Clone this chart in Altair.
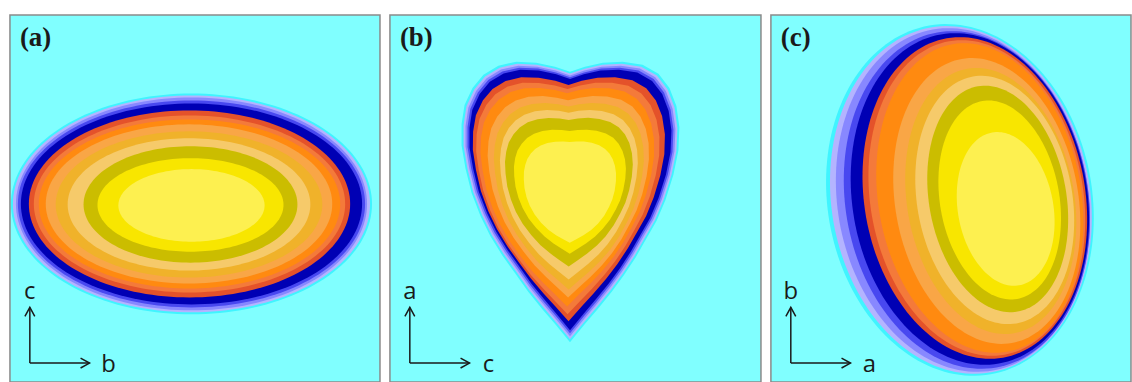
import altair as alt
import numpy as np

# ---------------- data ----------------
# contour level colours, outermost first
LEVEL_COLORS = ["#40f4ff", "#b4b4ff", "#8888ff", "#4848f0", "#0000b4",
                "#e4522a", "#f47a3a", "#ff8a10", "#f9a646", "#f0b22a",
                "#f6ca6a", "#cbbd00", "#f8e600", "#fdf050"]

# panel (a): level extents in page pixels (ellipses)
A_LEFT = [10, 12, 15, 17, 20, 28, 33, 38, 45, 55, 67, 83, 97, 118]
A_RIGHT = [373, 371, 368, 366, 363, 351, 346, 341, 333, 323, 311, 298, 284, 265]
A_TOP = [92, 94, 96, 99, 102, 109, 114, 118, 123, 130, 137, 145, 157, 168]
A_BOTTOM = [314, 312, 310, 307, 304, 297, 292, 288, 283, 277, 270, 262, 251, 241]

# panel (b): outer heart outline (page pixels) and level extents
B_OUT_X = [570, 585, 603, 623, 643, 659, 670, 677, 680, 679, 674, 666, 657, 647, 636, 624, 612, 598, 585,
           570, 555, 542, 528, 515, 502, 490, 480, 471, 465, 461, 461, 464, 472, 483, 498, 516, 536, 555]
B_OUT_Y = [70, 65, 61, 60, 63, 72, 86, 104, 125, 148, 172, 197, 218, 235, 254, 272, 288, 305, 320,
           338, 320, 305, 288, 270, 252, 233, 213, 190, 166, 143, 122, 103, 86, 73, 64, 60, 61, 65]
B_LEFT = [461, 463, 465, 467, 469, 472, 475, 479, 486, 492, 498, 503, 512, 522]
B_RIGHT = [680, 678, 676, 674, 672, 666, 661, 656, 651, 646, 640, 635, 628, 618]
B_TOP = [60, 62, 64, 66, 68, 75, 80, 85, 93, 100, 107, 115, 127, 139]
B_BOTTOM = [342, 339, 336, 333, 330, 321, 314, 306, 297, 289, 279, 266, 253, 242]
# how round (0 = heart, 1 = ellipse) each level looks
B_ROUND = [0, 0, 0, 0, 0, 0.05, 0.1, 0.15, 0.2, 0.25, 0.3, 0.35, 0.4, 0.5]

# panel (c): tilted ellipses (page pixels)
C_CX = [960, 961, 963, 967, 970, 975, 977, 980, 987, 991, 995, 998, 1000, 1006]
C_CY = [199, 199, 199, 199, 198, 197, 197, 197, 200, 200, 199, 198, 199, 208]
C_RX = [133, 130, 126, 122, 118, 111, 107, 102, 92, 84, 78, 69, 60, 48]
C_RY = [178, 176, 174, 171, 168, 163, 160, 157, 145, 135, 126, 115, 101, 78]
C_TILT_DEG = -10

PANEL_LABELS = ["(a)", "(b)", "(c)"]
AXIS_UP = ["c", "a", "b"]
AXIS_RIGHT = ["b", "c", "a"]
PANEL_X0 = [9, 389, 770]
PANEL_Y0 = 13
PANEL_W = [372, 373, 362]
PANEL_H = 369

BG = "#80ffff"
N_T = 160
T = np.linspace(0, 2 * np.pi, N_T, endpoint=False)


def feature(xs, ys, color):
    ring = [[float(x), float(y)] for x, y in zip(xs, ys)]
    ring.append(ring[0])
    return {"type": "Feature", "geometry": {"type": "Polygon", "coordinates": [ring]},
            "properties": {"color": color}}


def feats_a(x0, y0):
    out = []
    for l, r, t, b, c in zip(A_LEFT, A_RIGHT, A_TOP, A_BOTTOM, LEVEL_COLORS):
        cx, cy, rx, ry = (l + r) / 2 - x0, (t + b) / 2 - y0, (r - l) / 2, (b - t) / 2
        out.append(feature(cx + rx * np.cos(T), cy + ry * np.sin(T), c))
    return out


def feats_b(x0, y0):
    ox = np.array(B_OUT_X, float)
    oy = np.array(B_OUT_Y, float)
    nx = (ox - ox.min()) / (ox.max() - ox.min())
    ny = (oy - oy.min()) / (oy.max() - oy.min())
    ang = np.arctan2(ny - 0.5, nx - 0.5)
    ex, ey = 0.5 + 0.5 * np.cos(ang), 0.5 + 0.5 * np.sin(ang)
    out = []
    for l, r, t, b, w, c in zip(B_LEFT, B_RIGHT, B_TOP, B_BOTTOM, B_ROUND, LEVEL_COLORS):
        mx = (1 - w) * nx + w * ex
        my = (1 - w) * ny + w * ey
        out.append(feature(l + mx * (r - l) - x0, t + my * (b - t) - y0, c))
    return out


def feats_c(x0, y0):
    phi = np.deg2rad(C_TILT_DEG)
    out = []
    for cx, cy, rx, ry, c in zip(C_CX, C_CY, C_RX, C_RY, LEVEL_COLORS):
        u, v = rx * np.cos(T), ry * np.sin(T)
        xs = cx + u * np.cos(phi) - v * np.sin(phi) - x0
        ys = cy + u * np.sin(phi) + v * np.cos(phi) - y0
        out.append(feature(xs, ys, c))
    return out


def panel(feats, w, label, up, right):
    data = alt.InlineData(values={"type": "FeatureCollection", "features": feats},
                          format=alt.DataFormat(property="features", type="json"))
    shapes = alt.Chart(data).mark_geoshape(strokeWidth=0).encode(
        fill=alt.Fill("properties.color:N", scale=None)
    ).project(type="identity", scale=1, translate=[0, 0])

    lab = alt.Chart(alt.Data(values=[{"t": label}])).mark_text(
        font="Liberation Serif", fontWeight="bold", fontSize=27, align="left",
        baseline="alphabetic", color="#1a1a1a"
    ).encode(text="t:N", x=alt.value(10), y=alt.value(31))

    ink = "#1a1a1a"
    vline = alt.Chart(alt.Data(values=[{}])).mark_rule(color=ink, strokeWidth=1.5).encode(
        x=alt.value(20), y=alt.value(294), y2=alt.value(350))
    hline = alt.Chart(alt.Data(values=[{}])).mark_rule(color=ink, strokeWidth=1.5).encode(
        x=alt.value(20), x2=alt.value(80), y=alt.value(350))
    head_up = alt.Chart(alt.Data(values=[{}])).mark_point(
        shape="M -0.55 1 L 0 0 L 0.55 1", filled=False, stroke=ink, strokeWidth=1.5, size=324,
        opacity=1).encode(x=alt.value(20), y=alt.value(294))
    head_right = alt.Chart(alt.Data(values=[{}])).mark_point(
        shape="M -1 -0.55 L 0 0 L -1 0.55", filled=False, stroke=ink, strokeWidth=1.5, size=324,
        opacity=1).encode(x=alt.value(80), y=alt.value(350))
    t_up = alt.Chart(alt.Data(values=[{"t": up}])).mark_text(
        font="Open Sans", fontSize=24, align="center", baseline="alphabetic", color=ink
    ).encode(text="t:N", x=alt.value(20), y=alt.value(286))
    t_right = alt.Chart(alt.Data(values=[{"t": right}])).mark_text(
        font="Open Sans", fontSize=24, align="center", baseline="alphabetic", color=ink
    ).encode(text="t:N", x=alt.value(99), y=alt.value(359))

    return alt.layer(shapes, lab, vline, hline, head_up, head_right, t_up, t_right).properties(
        width=w, height=PANEL_H)


pa = panel(feats_a(PANEL_X0[0], PANEL_Y0), PANEL_W[0], PANEL_LABELS[0], AXIS_UP[0], AXIS_RIGHT[0])
pb = panel(feats_b(PANEL_X0[1], PANEL_Y0), PANEL_W[1], PANEL_LABELS[1], AXIS_UP[1], AXIS_RIGHT[1])
pc = panel(feats_c(PANEL_X0[2], PANEL_Y0), PANEL_W[2], PANEL_LABELS[2], AXIS_UP[2], AXIS_RIGHT[2])

chart = alt.hconcat(pa, pb, pc, spacing=8).properties(
    padding={"left": 9, "top": 13, "right": 0, "bottom": 0},
    background="white",
).configure_view(fill=BG, stroke="#8a8a8a", strokeWidth=1.5)

chart.save("out.html", embed_options={"renderer": "svg", "actions": False})
